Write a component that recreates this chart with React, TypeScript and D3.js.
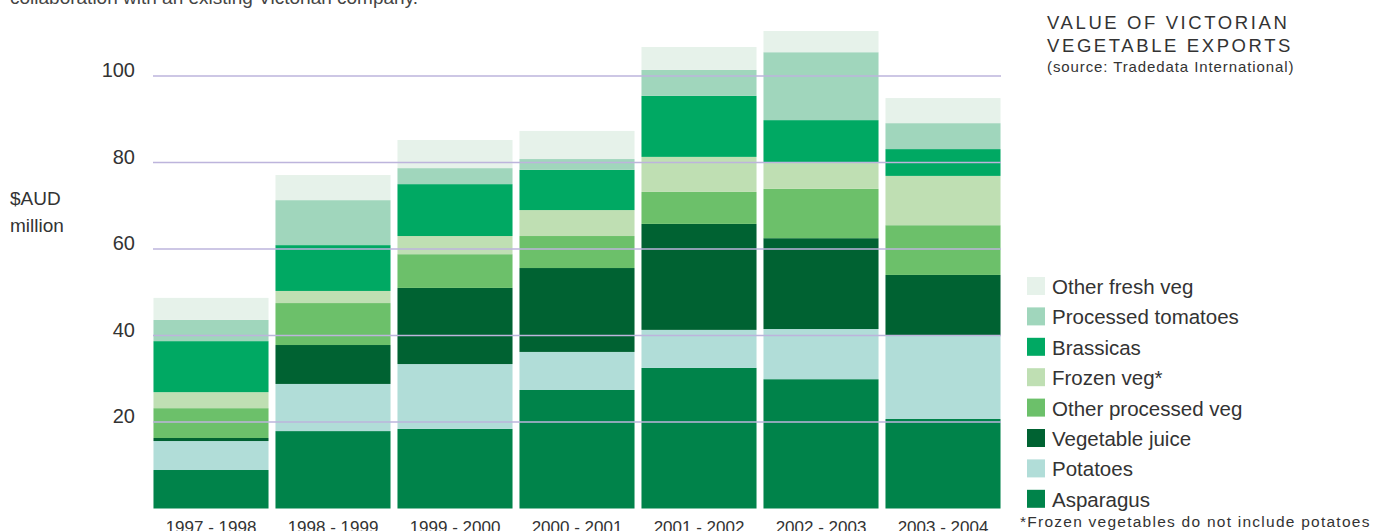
import React from "react";
import * as d3 from "d3";

const years = ["1997 - 1998", "1998 - 1999", "1999 - 2000", "2000 - 2001", "2001 - 2002", "2002 - 2003", "2003 - 2004"];

// bottom to top
const seriesNames = ["Asparagus", "Potatoes", "Vegetable juice", "Other processed veg", "Frozen veg*", "Brassicas", "Processed tomatoes", "Other fresh veg"];
const seriesColors = ["#00834a", "#b1ddd8", "#006232", "#6cc06a", "#bfdfb3", "#00a963", "#a0d6bc", "#e6f2ea"];

const asparagus = [8.9, 17.9, 18.4, 27.4, 32.5, 29.9, 20.7];
const potatoes = [6.7, 10.9, 15.0, 8.8, 8.8, 11.6, 19.4];
const vegetableJuice = [0.7, 9.0, 17.6, 19.4, 24.5, 21.0, 13.9];
const otherProcessed = [6.9, 9.7, 7.8, 7.4, 7.4, 11.4, 11.5];
const frozenVeg = [3.7, 2.8, 4.2, 6.0, 8.1, 6.2, 11.4];
const brassicas = [11.8, 10.6, 12.0, 9.3, 14.1, 9.7, 6.2];
const processedTomatoes = [4.9, 10.4, 3.7, 2.5, 6.0, 15.7, 6.0];
const otherFresh = [5.1, 5.8, 6.5, 6.5, 5.3, 4.9, 5.8];

const seriesValues = [asparagus, potatoes, vegetableJuice, otherProcessed, frozenVeg, brassicas, processedTomatoes, otherFresh];

const yTicks = [20, 40, 60, 80, 100];

const font = "'Liberation Sans', Arial, sans-serif";

export default function App() {
  const W = 1373, H = 531;
  const rows = years.map((y, i) => {
    const r: any = { year: y };
    seriesNames.forEach((s, k) => (r[s] = seriesValues[k][i]));
    return r;
  });
  const stacked = d3.stack<any>().keys(seriesNames)(rows);

  const x = d3.scaleBand<string>().domain(years).range([150, 1004]).paddingInner(0.057).paddingOuter(0.0285);
  const y = d3.scaleLinear().domain([0, 100]).range([508.5, 76]);

  const legendOrder = [...seriesNames].reverse();

  return (
    <svg width={W} height={H} style={{ position: "absolute", left: 0, top: 0, background: "#fff" }} fontFamily={font}>
      <text x={10} y={4} fontSize={19} fill="#444">collaboration with an existing Victorian company.</text>

      {stacked.map((layer, k) => (
        <g key={layer.key} fill={seriesColors[k]}>
          {layer.map((d, i) => (
            <rect key={i} x={x(years[i])} y={y(d[1])} width={x.bandwidth()} height={y(d[0]) - y(d[1])} />
          ))}
        </g>
      ))}

      {yTicks.map((t) => (
        <g key={t}>
          <line x1={153} x2={1001} y1={y(t)} y2={y(t)} stroke="#bdb4dc" strokeWidth={1.6} />
          <text x={135} y={y(t) + 1} textAnchor="end" fontSize={20} fill="#333">{t}</text>
        </g>
      ))}

      <text x={10} y={205} fontSize={19} fill="#333">$AUD</text>
      <text x={10} y={232} fontSize={19} fill="#333">million</text>

      {years.map((yr) => (
        <text key={yr} x={(x(yr) as number) + x.bandwidth() / 2} y={533} textAnchor="middle" fontSize={17} fill="#333">{yr}</text>
      ))}

      <text x={1047} y={29} fontSize={18.5} letterSpacing={2.6} fill="#333">VALUE OF VICTORIAN</text>
      <text x={1047} y={52} fontSize={18.5} letterSpacing={2.6} fill="#333">VEGETABLE EXPORTS</text>
      <text x={1047} y={72} fontSize={15} letterSpacing={0.9} fill="#333">(source: Tradedata International)</text>

      {legendOrder.map((name, i) => {
        const k = seriesNames.indexOf(name);
        const ty = 277 + i * 30.4;
        return (
          <g key={name}>
            <rect x={1027} y={ty} width={18} height={18} fill={seriesColors[k]} />
            <text x={1052} y={ty + 17} fontSize={20.5} fill="#333">{name}</text>
          </g>
        );
      })}

      <text x={1020} y={527} fontSize={15.5} letterSpacing={1.25} fill="#333">*Frozen vegetables do not include potatoes</text>
    </svg>
  );
}
